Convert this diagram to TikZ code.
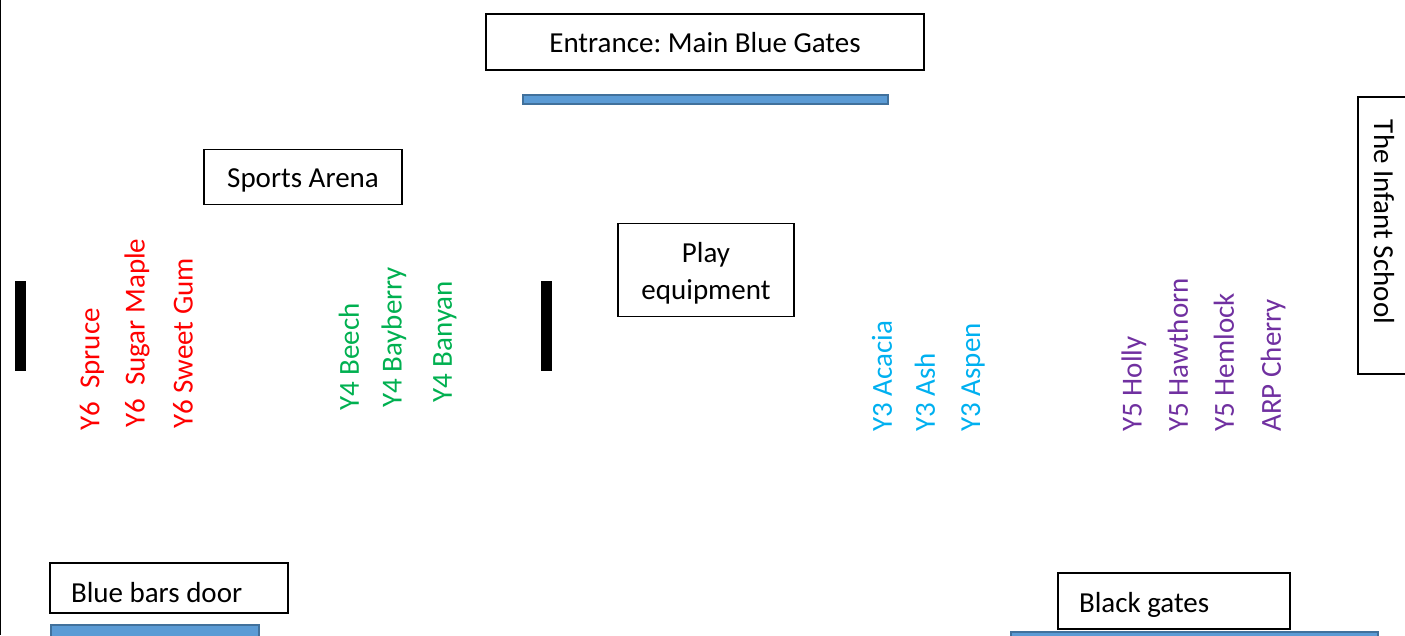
\documentclass[tikz,border=0pt]{standalone}
\usepackage{fontspec}
\setmainfont{Carlito}
\frenchspacing
\definecolor{ysix}{HTML}{FF0000}
\definecolor{yfour}{HTML}{00B050}
\definecolor{ythree}{HTML}{00B0F0}
\definecolor{yfive}{HTML}{7030A0}
\definecolor{barfill}{HTML}{5B9BD5}
\definecolor{barline}{HTML}{41719C}
\tikzset{box/.style={draw=black,line width=1.1pt,inner sep=0pt,text depth=3pt,text height=#1},
  box/.default=15pt,
  gatebox/.style 2 args={box=#2,inner xsep=0.42cm,text width=#1,
    execute at begin node={\spaceskip=0pt\xspaceskip=0pt\relax}},
  bar/.style={fill=barfill,draw=barline,line width=0.04cm},
  post/.style={fill=black},
  classlbl/.style={text=#1,rotate=90,anchor=west,inner sep=0pt}}

\begin{document}
\begin{tikzpicture}[x=0.02cm,y=-0.02cm,font=\fontsize{16.5}{21}\selectfont]
      \useasboundingbox (0,0) rectangle (1405,635);
      \pgfmathsetmacro{\rowy}{432}
      \draw[line width=0.03cm] (0.5,0) -- (0.5,635);

      \node[box=15.5pt,minimum width=8.76cm,minimum height=1.12cm] at (705,42) (entrance) {Entrance: Main Blue Gates};
      \draw[bar] (523,95) rectangle (888,104);

      \node[box=14.4pt,minimum width=3.96cm,minimum height=1.1cm] at (303,177) (sports) {Sports Arena};
      \node[box=37pt,minimum width=3.52cm,minimum height=1.86cm,align=center] at (706,270) (play) {Play\\equipment};

      \fill[post] (15,281) rectangle (26,371);
      \fill[post] (541,281) rectangle (552,371);

      \draw[line width=1.1pt] (1420,97) -- (1358,97) -- (1358,374) -- (1420,374);
      \node[rotate=-90,inner sep=0pt] at (1384,222) (infant) {The Infant School};

      \node[classlbl=ysix] at (92,431) (spruce) {Y6~~Spruce};
      \node[classlbl=ysix] at (137,428) (maple) {Y6~~Sugar Maple};
      \node[classlbl=ysix] at (183,429) (gum) {Y6 Sweet Gum};

      \node[classlbl=yfour] at (349,411) (beech) {Y4 Beech};
      \node[classlbl=yfour] at (394,408) (bayberry) {Y4 Bayberry};
      \node[classlbl=yfour] at (445,403) (banyan) {Y4 Banyan};

      \node[classlbl=ythree] at (882,\rowy) (acacia) {Y3 Acacia};
      \node[classlbl=ythree] at (925,\rowy) (ash) {Y3 Ash};
      \node[classlbl=ythree] at (973,\rowy) (aspen) {Y3 Aspen};

      \node[classlbl=yfive] at (1134,\rowy) (holly) {Y5 Holly};
      \node[classlbl=yfive] at (1178,\rowy) (hawthorn) {Y5 Hawthorn};
      \node[classlbl=yfive] at (1224,\rowy) (hemlock) {Y5 Hemlock};
      \node[classlbl=yfive] at (1273,\rowy) (cherry) {ARP Cherry};

      \node[gatebox={3.92cm}{20pt},minimum height=1cm] at (169,588) (door) {Blue bars door};
      \draw[bar] (51,625) rectangle (259,645);

      \node[gatebox={3.8cm}{16.6pt},minimum height=1.12cm] at (1174,601) (black) {Black gates};
      \draw[bar] (1011,632) rectangle (1378,650);
\end{tikzpicture}
\end{document}
